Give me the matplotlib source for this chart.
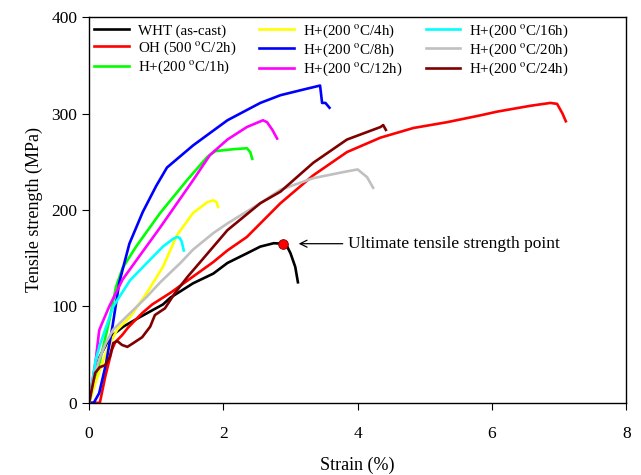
import matplotlib
matplotlib.use("Agg")
import matplotlib.pyplot as plt

plt.rcParams['font.family'] = ['Liberation Serif', 'DejaVu Serif']
plt.rcParams['mathtext.fontset'] = 'stix'

# strain (%) / tensile strength (MPa)
wht_x = [0, 0.08, 0.16, 0.31, 0.51, 0.76, 1.1, 1.21, 1.55, 1.85, 2.06, 2.35, 2.55, 2.75, 2.89, 2.95, 3.0, 3.07, 3.11]
wht_y = [0, 30, 48, 68, 79, 89, 102, 109, 124, 134, 145, 155, 162, 165.5, 165, 162, 155, 141, 125]

oh_x = [0, 0.16, 0.24, 0.34, 0.39, 0.49, 0.58, 0.79, 0.94, 1.21, 1.55, 1.85, 2.06, 2.35, 2.55, 2.85, 3.34,
        3.84, 4.34, 4.83, 5.33, 5.82, 6.08, 6.57, 6.87, 6.97, 7.05, 7.1]
oh_y = [0, 0, 27, 55, 63, 70, 78, 93, 102, 114, 131, 146, 158, 172, 186, 207, 236,
        260, 275, 285, 291, 298, 302, 308, 311, 310, 300, 292]

h1_x = [0, 0.1, 0.2, 0.3, 0.4, 0.5, 0.7, 1.06, 1.46, 1.76, 1.88, 2.15, 2.35, 2.4, 2.43]
h1_y = [0, 25, 55, 85, 120, 140, 162, 197, 231, 255, 261, 263, 264, 260, 253]

h4_x = [0, 0.1, 0.2, 0.3, 0.42, 0.61, 0.86, 1.1, 1.31, 1.55, 1.76, 1.85, 1.9, 1.92]
h4_y = [0, 22, 42, 60, 76, 89, 114, 141, 174, 197, 208, 210, 208, 203]

h8_x = [0, 0.07, 0.15, 0.25, 0.35, 0.45, 0.6, 0.8, 1.0, 1.16, 1.55, 2.06, 2.55, 2.85, 3.2, 3.44, 3.47, 3.52, 3.58]
h8_y = [0, 0, 10, 40, 80, 125, 165, 198, 225, 244, 267, 293, 311, 319, 325, 329, 311, 311, 306]

h12_x = [0, 0.1, 0.15, 0.19, 0.3, 0.5, 0.8, 1.06, 1.36, 1.55, 1.8, 2.06, 2.35, 2.59, 2.65, 2.73, 2.8]
h12_y = [0, 45, 75, 82, 100, 128, 157, 182, 212, 231, 257, 273, 286, 293, 291, 283, 274]

h16_x = [0, 0.1, 0.16, 0.36, 0.61, 0.86, 1.1, 1.25, 1.31, 1.35, 1.38, 1.41]
h16_y = [0, 45, 60, 100, 127, 145, 162, 170, 172, 171, 167, 158]

h20_x = [0, 0.05, 0.15, 0.25, 0.36, 0.86, 1.06, 1.36, 1.55, 1.85, 2.06, 2.55, 2.85, 3.34, 3.84, 4.0, 4.14, 4.23]
h20_y = [0, 20, 45, 62, 76, 110, 125, 145, 159, 176, 186, 207, 221, 233, 240, 242, 234, 223]

h24_x = [0, 0.09, 0.16, 0.24, 0.31, 0.36, 0.42, 0.49, 0.57, 0.66, 0.79, 0.91, 0.98, 1.13, 1.28, 1.47,
         1.68, 2.06, 2.55, 2.85, 3.34, 3.84, 4.34, 4.38, 4.42]
h24_y = [0, 31, 37, 39, 48, 62, 64, 60, 58, 62, 68, 79, 91, 98, 114, 131,
         148, 179, 207, 219, 249, 273, 286, 288, 283]

uts_x, uts_y = 2.89, 165

series = [
    ("WHT (as-cast)", wht_x, wht_y, "black"),
    ("OH (500 $^{\\mathrm{o}}$C/2h)", oh_x, oh_y, "#ff0000"),
    ("H+(200 $^{\\mathrm{o}}$C/1h)", h1_x, h1_y, "#00ff00"),
    ("H+(200 $^{\\mathrm{o}}$C/4h)", h4_x, h4_y, "#ffff00"),
    ("H+(200 $^{\\mathrm{o}}$C/8h)", h8_x, h8_y, "#0000ff"),
    ("H+(200 $^{\\mathrm{o}}$C/12h)", h12_x, h12_y, "#ff00ff"),
    ("H+(200 $^{\\mathrm{o}}$C/16h)", h16_x, h16_y, "#00ffff"),
    ("H+(200 $^{\\mathrm{o}}$C/20h)", h20_x, h20_y, "#c0c0c0"),
    ("H+(200 $^{\\mathrm{o}}$C/24h)", h24_x, h24_y, "#800000"),
]

fig = plt.figure(figsize=(6.41, 4.75), dpi=100)
ax = fig.add_axes([0.139, 0.152, 0.838, 0.812])

for label, xs, ys, col in series:
    ax.plot(xs, ys, color=col, lw=1.9, label=label)

ax.plot(uts_x, uts_y, 'o', color='red', mec='#800000', mew=0.6, ms=7, zorder=5)
ax.annotate("Ultimate tensile strength point", xy=(3.08, uts_y), xytext=(3.86, uts_y),
            va='center', ha='left', fontsize=12.5,
            arrowprops=dict(arrowstyle='->', color='black', lw=0.9))

ax.set_xlim(0, 8)
ax.set_ylim(0, 400)
ax.set_xticks([0, 2, 4, 6, 8])
ax.set_yticks([0, 100, 200, 300, 400])
ax.tick_params(direction='out', labelsize=12.5, length=5, top=False, right=False)
ax.tick_params(axis='x', pad=12)
ax.set_xlabel("Strain (%)", fontsize=13, labelpad=10)
ax.set_ylabel("Tensile strength (MPa)", fontsize=13, labelpad=6)
for sp in ax.spines.values():
    sp.set_linewidth(1.0)

# no frame: the legend sits directly under the top spine
leg = ax.legend(ncol=3, loc='upper left', bbox_to_anchor=(0.0, 1.0), fontsize=10.8,
                frameon=False, handlelength=2.3, handletextpad=0.6, columnspacing=1.55,
                labelspacing=0.12, borderpad=0.25, borderaxespad=0.1)

fig.savefig("out.png", dpi=100)
